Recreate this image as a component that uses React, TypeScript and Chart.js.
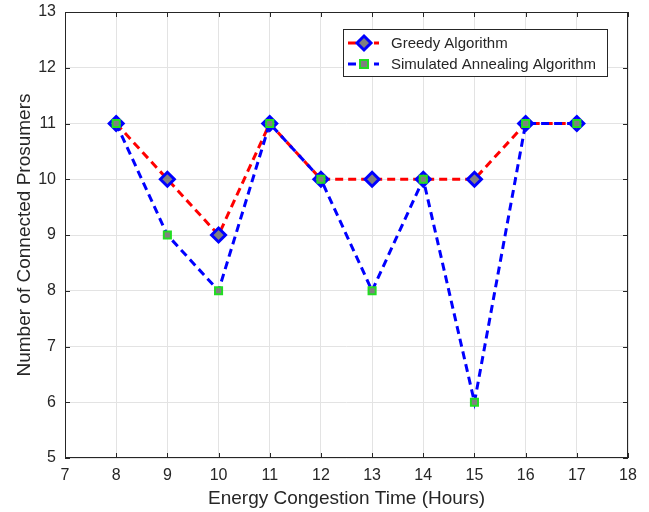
import React, { useEffect, useRef } from "react";
import { Chart, registerables } from "chart.js";

Chart.register(...registerables);

const hours = [8, 9, 10, 11, 12, 13, 14, 15, 16, 17];
const greedy = [11, 10, 9, 11, 10, 10, 10, 10, 11, 11];
const annealing = [11, 9, 8, 11, 10, 8, 10, 6, 11, 11];
const seriesNames = ["Greedy Algorithm", "Simulated Annealing Algorithm"];
const xTitle = "Energy Congestion Time (Hours)";
const yTitle = "Number of Connected Prosumers";

const FONT = "'Liberation Sans', Arial, sans-serif";
const AXIS = "#262626";

const framePlugin = {
  id: "frame",
  afterDatasetsDraw(chart: any) {
    const { ctx, chartArea: a, scales } = chart;
    ctx.save();
    ctx.strokeStyle = AXIS;
    ctx.lineWidth = 1;
    ctx.strokeRect(a.left + 0.5, a.top + 0.5, a.right - a.left - 1, a.bottom - a.top - 1);
    const tl = 5;
    ctx.beginPath();
    scales.x.ticks.forEach((t: any) => {
      const px = Math.round(scales.x.getPixelForValue(t.value)) + 0.5;
      ctx.moveTo(px, a.bottom);
      ctx.lineTo(px, a.bottom - tl);
      ctx.moveTo(px, a.top);
      ctx.lineTo(px, a.top + tl);
    });
    scales.y.ticks.forEach((t: any) => {
      const py = Math.round(scales.y.getPixelForValue(t.value)) + 0.5;
      ctx.moveTo(a.left, py);
      ctx.lineTo(a.left + tl, py);
      ctx.moveTo(a.right, py);
      ctx.lineTo(a.right - tl, py);
    });
    ctx.stroke();

    // legend
    const bx = 343, by = 29, bw = 264, bh = 47;
    ctx.fillStyle = "#ffffff";
    ctx.fillRect(bx, by, bw, bh);
    ctx.strokeStyle = AXIS;
    ctx.strokeRect(bx + 0.5, by + 0.5, bw, bh);
    const rows = [
      { y: by + 14, color: "#ff0000", shape: "diamond" },
      { y: by + 35, color: "#0000ff", shape: "square" },
    ];
    rows.forEach((r, i) => {
      ctx.save();
      ctx.setLineDash([8, 5]);
      ctx.lineWidth = 3;
      ctx.strokeStyle = r.color;
      ctx.beginPath();
      ctx.moveTo(bx + 5, r.y);
      ctx.lineTo(bx + 36, r.y);
      ctx.stroke();
      ctx.restore();
      const cx = bx + 21;
      ctx.fillStyle = "#808080";
      if (r.shape === "diamond") {
        ctx.lineWidth = 3;
        ctx.strokeStyle = "#0000ff";
        ctx.beginPath();
        ctx.moveTo(cx, r.y - 7);
        ctx.lineTo(cx + 7, r.y);
        ctx.lineTo(cx, r.y + 7);
        ctx.lineTo(cx - 7, r.y);
        ctx.closePath();
        ctx.fill();
        ctx.stroke();
      } else {
        ctx.lineWidth = 2;
        ctx.strokeStyle = "#22dd22";
        ctx.fillRect(cx - 4, r.y - 4, 8, 8);
        ctx.strokeRect(cx - 4, r.y - 4, 8, 8);
      }
      ctx.fillStyle = AXIS;
      ctx.font = `15px ${FONT}`;
      ctx.textBaseline = "middle";
      ctx.textAlign = "left";
      ctx.fillText(seriesNames[i], bx + 48, r.y + 1);
    });
    ctx.restore();
  },
};

export default function App() {
  const ref = useRef<HTMLCanvasElement>(null);
  useEffect(() => {
    document.body.style.margin = "0";
    const chart = new Chart(ref.current!, {
      type: "line",
      data: {
        datasets: [
          {
            label: seriesNames[0],
            data: hours.map((h, i) => ({ x: h, y: greedy[i] })),
            borderColor: "#ff0000",
            borderWidth: 3,
            borderDash: [8, 5],
            pointStyle: "rectRot",
            pointRadius: 7,
            pointBorderWidth: 3,
            pointBorderColor: "#0000ff",
            pointBackgroundColor: "#808080",
            fill: false,
            order: 2,
          },
          {
            label: seriesNames[1],
            data: hours.map((h, i) => ({ x: h, y: annealing[i] })),
            borderColor: "#0000ff",
            borderWidth: 3,
            borderDash: [8, 5],
            pointStyle: "rect",
            pointRadius: 5,
            pointBorderWidth: 2,
            pointBorderColor: "#22dd22",
            pointBackgroundColor: "#808080",
            fill: false,
            order: 1,
          },
        ],
      },
      options: {
        animation: false,
        responsive: false,
        layout: { padding: { top: 12, right: 21, left: 0, bottom: 0 } },
        plugins: { legend: { display: false }, tooltip: { enabled: false } },
        scales: {
          x: {
            type: "linear",
            min: 7,
            max: 18,
            ticks: { stepSize: 1, color: AXIS, font: { family: FONT, size: 16 }, padding: 8 },
            grid: { color: "#e3e3e3", tickLength: 0, drawTicks: false },
            border: { display: false },
            title: { display: true, text: xTitle, color: AXIS, font: { family: FONT, size: 19 }, padding: { top: 0, bottom: 2 } },
            afterFit: (s: any) => { s.height = 54; s.paddingLeft = 0; s.paddingRight = 0; },
          },
          y: {
            min: 5,
            max: 13,
            ticks: { stepSize: 1, color: AXIS, font: { family: FONT, size: 16 }, padding: 9 },
            grid: { color: "#e3e3e3", tickLength: 0, drawTicks: false },
            border: { display: false },
            title: { display: true, text: yTitle, color: AXIS, font: { family: FONT, size: 19 }, padding: { top: 13, bottom: 0 } },
            afterFit: (s: any) => { s.width = 65; s.paddingTop = 0; s.paddingBottom = 0; },
          },
        },
      },
      plugins: [framePlugin],
    });
    return () => chart.destroy();
  }, []);
  return <canvas ref={ref} width={649} height={512} style={{ display: "block" }} />;
}
